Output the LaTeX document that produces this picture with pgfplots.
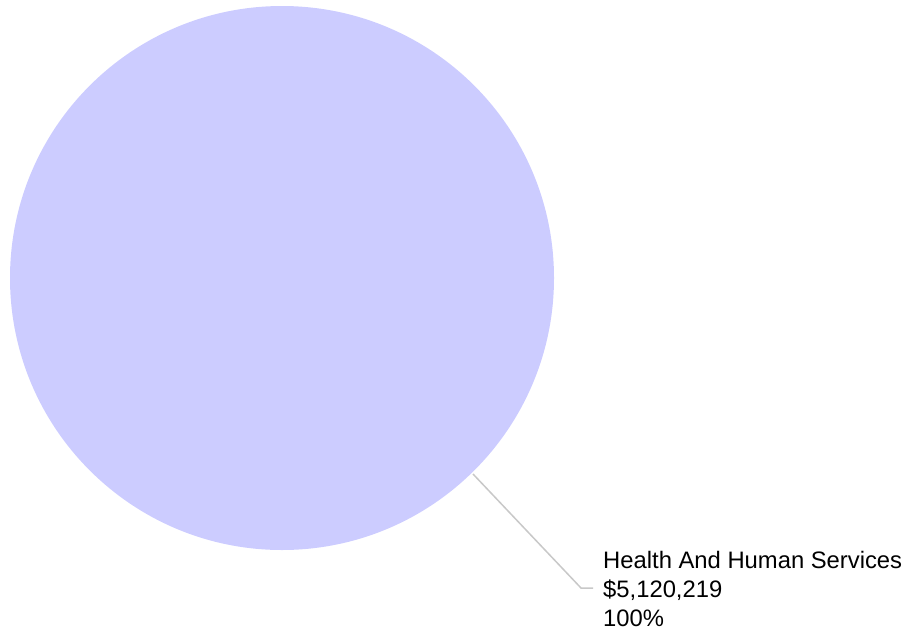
\documentclass[border=0pt]{standalone}
\usepackage{pgfplots}
\pgfplotsset{compat=1.18}
\usepackage{fontspec}
\setmainfont{Liberation Sans}
\definecolor{slice}{HTML}{CCCCFF}
\definecolor{leader}{HTML}{C8C8C8}
\begin{document}
\begin{tikzpicture}
\begin{axis}[
  scale only axis, width=916bp, height=630bp,
  xmin=0, xmax=916, ymin=0, ymax=630, y dir=reverse,
  hide axis, clip=false]
% single slice: Health And Human Services, $5,120,219 = 100% -> full circle
\fill[slice] (axis cs:282,278) circle[radius=272];
\draw[leader, line width=1.5bp] (axis cs:473,474) -- (axis cs:581,588) -- (axis cs:593,588);
\node[anchor=base west, inner sep=0pt, font=\fontsize{23.8bp}{28bp}\selectfont] at (axis cs:603,568) {Health And Human Services};
\node[anchor=base west, inner sep=0pt, font=\fontsize{23.8bp}{28bp}\selectfont] at (axis cs:603,597) {\$5,120,219};
\node[anchor=base west, inner sep=0pt, font=\fontsize{23.8bp}{28bp}\selectfont] at (axis cs:603,626) {100\%};
\end{axis}
\useasboundingbox (0,0) rectangle (916bp,630bp);
\end{tikzpicture}
\end{document}
